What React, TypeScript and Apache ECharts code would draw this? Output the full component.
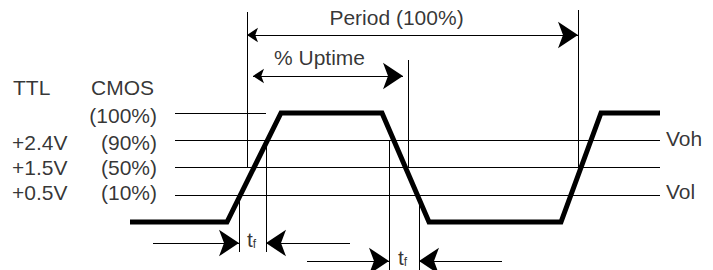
import React, { useEffect, useRef } from "react";
import * as echarts from "echarts";

// ---- Waveform (time x, level y in diagram units; y grows downward) ----
const WAVE_X = [130, 227, 281, 382, 429, 561, 601, 660];
const WAVE_Y = [222, 222, 113, 113, 222, 222, 113, 113];

// ---- Threshold level lines ----
const LEVEL_Y = [113, 140, 167, 195];
const LEVEL_X0 = [175, 175, 175, 175];
const LEVEL_X1 = [266, 660, 660, 660];
const CMOS_LABELS = ["(100%)", "(90%)", "(50%)", "(10%)"];
const CMOS_LABEL_Y = [115, 142.5, 167.5, 192.5];
const TTL_LABELS = ["+2.4V", "+1.5V", "+0.5V"];
const TTL_LABEL_Y = [142.5, 167.5, 192.5];
const RIGHT_LABELS = ["Voh", "Vol"];
const RIGHT_LABEL_Y = [138, 191.5];

// ---- Vertical reference lines ----
const MARK_X = [247, 266, 239, 408, 389, 419, 578];
const MARK_Y0 = [12, 140, 195, 60, 140, 195, 10];
const MARK_Y1 = [167, 252, 252, 167, 270, 270, 167];

// ---- Dimension arrows (double headed) ----
const DIM_FROM = [[247, 35], [253, 76]];
const DIM_TO = [[578, 35], [403, 76]];
const DIM_LABELS = ["Period (100%)", "% Uptime"];
const DIM_LABEL_POS = [[396.5, 17.5], [319.5, 57.5]];

// ---- t_f arrows (single headed, pointing inwards) ----
const TF_FROM = [[153, 243], [350, 243], [307, 261], [502, 261]];
const TF_TO = [[239, 243], [266, 243], [389, 261], [419, 261]];
const TF_LABEL_POS = [[247, 239], [398, 257]];

const FONT = "'Liberation Sans', Arial, Helvetica, sans-serif";

export default function App() {
  const ref = useRef<HTMLDivElement>(null);
  useEffect(() => {
    if (!ref.current) return;
    const chart = echarts.init(ref.current, undefined, { renderer: "svg" });

    const thin = { color: "#000", width: 1, opacity: 1 };

    const levelLines = LEVEL_Y.map((y, i) => ({ coords: [[LEVEL_X0[i], y], [LEVEL_X1[i], y]] }));
    const markLines = MARK_X.map((x, i) => ({ coords: [[x, MARK_Y0[i]], [x, MARK_Y1[i]]] }));
    const dimLines = DIM_FROM.map((f, i) => ({ coords: [f, DIM_TO[i]] }));
    const tfLines = TF_FROM.map((f, i) => ({ coords: [f, TF_TO[i]] }));

    const lbl = (x: number, y: number, text: string, align: string, extra: any = {}) => ({
      value: [x, y],
      label: {
        show: true,
        formatter: text,
        position: [0, 0],
        align,
        verticalAlign: "middle",
        ...extra,
      },
    });

    const texts: any[] = [
      lbl(13, 87.5, "TTL", "left"),
      lbl(91, 87.5, "CMOS", "left"),
      ...CMOS_LABELS.map((t, i) => lbl(157, CMOS_LABEL_Y[i], t, "right")),
      ...TTL_LABELS.map((t, i) => lbl(12, TTL_LABEL_Y[i], t, "left")),
      ...RIGHT_LABELS.map((t, i) => lbl(666, RIGHT_LABEL_Y[i], t, "left")),
      ...DIM_LABELS.map((t, i) => lbl(DIM_LABEL_POS[i][0], DIM_LABEL_POS[i][1], t, "center")),
      ...TF_LABEL_POS.map((p) =>
        lbl(p[0], p[1], "{a|t}{b|f}", "left", {
          rich: {
            a: { fontSize: 21, fontFamily: FONT, color: "#000" },
            b: { fontSize: 12, fontFamily: FONT, color: "#000", verticalAlign: "bottom", padding: [0, 0, 0, 0] },
          },
        })
      ),
    ];

    chart.setOption({
      animation: false,
      backgroundColor: "#fff",
      grid: { left: 0, right: 0, top: 0, bottom: 0 },
      xAxis: { type: "value", min: 0, max: 713, show: false },
      yAxis: { type: "value", min: 0, max: 270, inverse: true, show: false },
      series: [
        {
          type: "lines",
          coordinateSystem: "cartesian2d",
          silent: true,
          symbol: ["none", "none"],
          lineStyle: thin,
          data: [...levelLines, ...markLines],
        },
        {
          type: "lines",
          coordinateSystem: "cartesian2d",
          silent: true,
          symbol: ["arrow", "arrow"],
          symbolSize: [11, 20],
          lineStyle: thin,
          data: dimLines,
        },
        {
          type: "lines",
          coordinateSystem: "cartesian2d",
          silent: true,
          symbol: ["none", "arrow"],
          symbolSize: [11, 20],
          lineStyle: thin,
          data: tfLines,
        },
        {
          type: "line",
          silent: true,
          showSymbol: false,
          symbol: "none",
          clip: false,
          lineStyle: { color: "#000", width: 5, join: "miter", cap: "butt" },
          data: WAVE_X.map((x, i) => [x, WAVE_Y[i]]),
        },
        {
          type: "scatter",
          silent: true,
          symbolSize: 0,
          itemStyle: { color: "transparent" },
          label: { show: true, fontSize: 21, fontFamily: FONT, color: "#000" },
          data: texts,
        },
      ],
    });
    return () => chart.dispose();
  }, []);
  return (
    <div
      ref={ref}
      style={{ position: "absolute", left: 0, top: 0, width: 713, height: 270, background: "#fff" }}
    />
  );
}
